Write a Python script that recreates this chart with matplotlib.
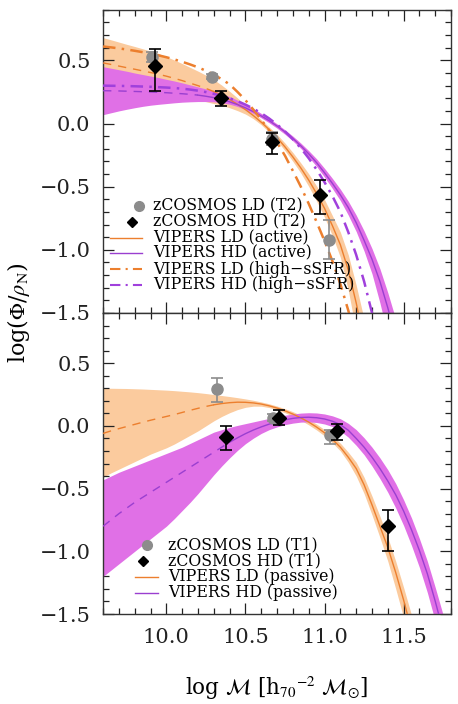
import matplotlib
matplotlib.use("Agg")
import matplotlib.pyplot as plt
from matplotlib.ticker import MultipleLocator
import numpy as np

plt.rcParams['font.family'] = ['DejaVu Serif']
plt.rcParams['mathtext.fontset'] = 'stix'

# ================= data: top panel (T2 / active, high-sSFR) =================
ld_act_m = [9.6, 9.65, 9.7, 9.75, 9.8, 9.85, 9.9, 9.95, 10.0, 10.05, 10.1, 10.15, 10.2, 10.25,
            10.3, 10.35, 10.4, 10.45, 10.5, 10.55, 10.6, 10.65, 10.7, 10.75, 10.8, 10.85, 10.9,
            10.95, 11.0, 11.05, 11.1, 11.15, 11.2, 11.25, 11.3]
ld_act_c = [0.48, 0.468, 0.455, 0.442, 0.43, 0.417, 0.404, 0.39, 0.375, 0.358, 0.34, 0.32, 0.30,
            0.278, 0.253, 0.224, 0.19, 0.152, 0.11, 0.063, 0.01, -0.048, -0.112, -0.185, -0.265,
            -0.352, -0.448, -0.555, -0.672, -0.81, -0.96, -1.16, -1.42, -1.72, -2.05]
ld_act_hi = [0.68, 0.663, 0.645, 0.627, 0.61, 0.592, 0.574, 0.555, 0.53, 0.503, 0.475, 0.445,
             0.415, 0.383, 0.348, 0.304, 0.255, 0.202, 0.145, 0.088, 0.03, -0.028, -0.087,
             -0.155, -0.23, -0.312, -0.398, -0.495, -0.602, -0.73, -0.86, -1.04, -1.28, -1.55, -1.85]
ld_act_lo = [0.28, 0.273, 0.265, 0.257, 0.25, 0.242, 0.234, 0.225, 0.22, 0.213, 0.205, 0.195,
             0.185, 0.173, 0.158, 0.144, 0.125, 0.102, 0.075, 0.038, -0.01, -0.068, -0.137,
             -0.215, -0.30, -0.392, -0.498, -0.615, -0.742, -0.89, -1.06, -1.32, -1.65, -1.95, -2.3]

hd_act_m = [9.6, 9.65, 9.7, 9.75, 9.8, 9.85, 9.9, 9.95, 10.0, 10.05, 10.1, 10.15, 10.2, 10.25,
            10.3, 10.35, 10.4, 10.45, 10.5, 10.55, 10.6, 10.65, 10.7, 10.75, 10.8, 10.85, 10.9,
            10.95, 11.0, 11.05, 11.1, 11.15, 11.2, 11.25, 11.3, 11.35, 11.4, 11.45, 11.5]
hd_act_c = [0.26, 0.259, 0.258, 0.256, 0.254, 0.252, 0.25, 0.247, 0.244, 0.24, 0.236, 0.231,
            0.225, 0.216, 0.205, 0.19, 0.172, 0.15, 0.124, 0.094, 0.06, 0.022, -0.02, -0.066,
            -0.118, -0.176, -0.24, -0.31, -0.39, -0.475, -0.565, -0.665, -0.785, -0.925, -1.075,
            -1.25, -1.46, -1.70, -1.98]
hd_act_hi = [0.45, 0.438, 0.426, 0.414, 0.40, 0.388, 0.376, 0.364, 0.35, 0.337, 0.322, 0.306,
             0.29, 0.274, 0.258, 0.238, 0.213, 0.185, 0.153, 0.118, 0.08, 0.04, -0.003, -0.05,
             -0.10, -0.155, -0.215, -0.28, -0.355, -0.435, -0.52, -0.615, -0.725, -0.85, -0.99,
             -1.15, -1.34, -1.55, -1.80]
hd_act_lo = [0.07, 0.085, 0.10, 0.113, 0.125, 0.136, 0.145, 0.152, 0.158, 0.164, 0.169, 0.172,
             0.174, 0.174, 0.172, 0.165, 0.153, 0.135, 0.11, 0.08, 0.045, 0.006, -0.037, -0.085,
             -0.138, -0.197, -0.265, -0.34, -0.425, -0.515, -0.61, -0.725, -0.855, -1.01, -1.19,
             -1.42, -1.68, -1.95, -2.25]

ssfr_m = [9.6, 9.65, 9.7, 9.75, 9.8, 9.85, 9.9, 9.95, 10.0, 10.05, 10.1, 10.15, 10.2, 10.25,
          10.3, 10.35, 10.4, 10.45, 10.5, 10.55, 10.6, 10.65, 10.7, 10.75, 10.8, 10.85, 10.9,
          10.95, 11.0, 11.05, 11.1, 11.15, 11.2, 11.25, 11.3, 11.35]
ld_ssfr = [0.61, 0.603, 0.595, 0.586, 0.576, 0.565, 0.553, 0.54, 0.525, 0.508, 0.489, 0.468,
           0.445, 0.418, 0.387, 0.351, 0.31, 0.25, 0.185, 0.11, 0.03, -0.055, -0.15, -0.255,
           -0.375, -0.50, -0.635, -0.78, -0.93, -1.09, -1.27, -1.48, -1.72, -2.0, -2.3, -2.6]
hd_ssfr = [0.30, 0.299, 0.298, 0.297, 0.295, 0.293, 0.291, 0.288, 0.285, 0.281, 0.276, 0.269,
           0.26, 0.249, 0.235, 0.219, 0.20, 0.177, 0.15, 0.118, 0.082, 0.04, -0.008, -0.062,
           -0.125, -0.195, -0.275, -0.365, -0.465, -0.575, -0.70, -0.86, -1.04, -1.25, -1.50, -1.78]

t2_ld_m = [9.91, 10.29, 10.67, 11.03]
t2_ld_v = [0.53, 0.37, -0.12, -0.92]
t2_ld_e = [0.04, 0.02, 0.05, 0.155]
t2_hd_m = [9.93, 10.345, 10.668, 10.973]
t2_hd_v = [0.457, 0.204, -0.148, -0.564]
t2_hd_elo = [0.197, 0.064, 0.092, 0.152]
t2_hd_ehi = [0.133, 0.056, 0.072, 0.120]

# ================= data: bottom panel (T1 / passive) =================
pas_m = [9.6, 9.65, 9.7, 9.75, 9.8, 9.85, 9.9, 9.95, 10.0, 10.05, 10.1, 10.15, 10.2, 10.25,
         10.3, 10.35, 10.4, 10.45, 10.5, 10.55, 10.6, 10.65, 10.7, 10.75, 10.8, 10.85, 10.9,
         10.95, 11.0, 11.05, 11.1, 11.15, 11.2, 11.25, 11.3, 11.35, 11.4, 11.45, 11.5, 11.55,
         11.6, 11.65, 11.7, 11.75, 11.8]
ld_pas_c = [-0.06, -0.04, -0.022, -0.005, 0.012, 0.029, 0.045, 0.06, 0.075, 0.09, 0.107, 0.124,
            0.14, 0.155, 0.168, 0.178, 0.185, 0.189, 0.188, 0.183, 0.174, 0.16, 0.142, 0.12,
            0.094, 0.064, 0.03, -0.01, -0.055, -0.108, -0.17, -0.25, -0.34, -0.47, -0.63, -0.80,
            -0.97, -1.17, -1.39, -1.63, -1.9, -2.2, -2.5, -2.8, -3.1]
ld_pas_hi = [0.30, 0.30, 0.299, 0.298, 0.296, 0.294, 0.291, 0.288, 0.285, 0.281, 0.276, 0.271,
             0.265, 0.258, 0.25, 0.242, 0.234, 0.225, 0.215, 0.204, 0.191, 0.176, 0.158, 0.137,
             0.113, 0.085, 0.052, 0.014, -0.03, -0.08, -0.138, -0.21, -0.29, -0.41, -0.56,
             -0.72, -0.89, -1.08, -1.29, -1.51, -1.77, -2.05, -2.35, -2.65, -2.95]
ld_pas_lo = [-0.41, -0.375, -0.345, -0.315, -0.285, -0.255, -0.225, -0.20, -0.175, -0.145, -0.11,
             -0.075, -0.04, 0.0, 0.04, 0.075, 0.105, 0.13, 0.148, 0.157, 0.157, 0.146, 0.128,
             0.105, 0.077, 0.045, 0.008, -0.033, -0.08, -0.135, -0.20, -0.29, -0.40, -0.54,
             -0.71, -0.89, -1.08, -1.30, -1.53, -1.79, -2.07, -2.35, -2.65, -2.95, -3.25]
hd_pas_c = [-0.80, -0.75, -0.70, -0.655, -0.61, -0.57, -0.53, -0.49, -0.45, -0.41, -0.37, -0.33,
            -0.29, -0.25, -0.21, -0.17, -0.13, -0.095, -0.062, -0.033, -0.008, 0.014, 0.032, 0.048,
            0.06, 0.067, 0.069, 0.065, 0.055, 0.037, 0.01, -0.035, -0.10, -0.17, -0.25, -0.34,
            -0.44, -0.55, -0.68, -0.83, -0.995, -1.18, -1.40, -1.64, -1.90]
hd_pas_hi = [-0.43, -0.40, -0.37, -0.345, -0.32, -0.295, -0.27, -0.245, -0.22, -0.195, -0.17,
             -0.14, -0.11, -0.08, -0.05, -0.03, -0.012, 0.004, 0.018, 0.032, 0.046, 0.06, 0.073,
             0.085, 0.095, 0.102, 0.105, 0.103, 0.095, 0.08, 0.057, 0.02, -0.03, -0.095, -0.17,
             -0.255, -0.35, -0.46, -0.59, -0.735, -0.90, -1.08, -1.29, -1.51, -1.76]
hd_pas_lo = [-1.20, -1.15, -1.10, -1.05, -1.0, -0.95, -0.90, -0.85, -0.80, -0.74, -0.675, -0.61,
             -0.54, -0.465, -0.39, -0.32, -0.255, -0.195, -0.142, -0.098, -0.06, -0.03, -0.008,
             0.01, 0.022, 0.03, 0.032, 0.027, 0.015, -0.005, -0.04, -0.09, -0.155, -0.23, -0.32,
             -0.42, -0.53, -0.655, -0.795, -0.955, -1.13, -1.33, -1.56, -1.80, -2.1]

t1_ld_m = [10.32, 10.674, 11.037]
t1_ld_v = [0.297, 0.065, -0.076]
t1_ld_elo = [0.107, 0.03, 0.07]
t1_ld_ehi = [0.085, 0.03, 0.04]
t1_hd_m = [10.38, 10.71, 11.08, 11.40]
t1_hd_v = [-0.09, 0.065, -0.044, -0.80]
t1_hd_elo = [0.10, 0.061, 0.072, 0.20]
t1_hd_ehi = [0.09, 0.059, 0.056, 0.13]

top_labels = ['zCOSMOS LD (T2)', 'zCOSMOS HD (T2)', 'VIPERS LD (active)', 'VIPERS HD (active)',
              'VIPERS LD (high\u2212sSFR)', 'VIPERS HD (high\u2212sSFR)']
bot_labels = ['zCOSMOS LD (T1)', 'zCOSMOS HD (T1)', 'VIPERS LD (passive)', 'VIPERS HD (passive)']

# ================= styles =================
c_or = '#EC7F2E'
c_or_fill = '#FBCB9E'
c_mg = '#9A3FD0'
c_mg_dd = '#A040DC'
c_mg_fill = '#E070E6'
c_gray = '#8C8C8C'
dash = (0, (6, 5))
dashdot = (0, (5, 2.5, 1, 2.5))

fig = plt.figure(figsize=(4.58, 7.04), dpi=100)
ax1 = fig.add_axes([0.225, 0.5554, 0.760, 0.4306])
ax2 = fig.add_axes([0.225, 0.1278, 0.760, 0.4276])


def split(m, v, cut):
    m = np.asarray(m); v = np.asarray(v)
    return (m[m <= cut + 1e-9], v[m <= cut + 1e-9]), (m[m >= cut - 1e-9], v[m >= cut - 1e-9])


def style_axes(ax, show_x):
    ax.set_xlim(9.6, 11.8)
    ax.set_ylim(-1.5, 0.9)
    ax.xaxis.set_major_locator(MultipleLocator(0.5))
    ax.xaxis.set_minor_locator(MultipleLocator(0.1))
    ax.yaxis.set_minor_locator(MultipleLocator(0.1))
    ax.set_yticks([-1.5, -1.0, -0.5, 0.0, 0.5])
    ax.set_yticklabels(['\u22121.5', '\u22121.0', '\u22120.5', '0.0', '0.5'])
    ax.tick_params(which='both', direction='in', top=True, right=True, width=0.9, colors='#222222')
    ax.tick_params(which='major', length=8, labelsize=15)
    ax.tick_params(axis='y', which='major', pad=9)
    ax.tick_params(axis='x', which='major', pad=10)
    ax.tick_params(which='minor', length=4)
    if not show_x:
        ax.tick_params(labelbottom=False)
    for s in ax.spines.values():
        s.set_linewidth(1.0)
        s.set_color('#333333')


def manual_legend(ax, items, labels, rows_y, x_text, x_line, x_circle, x_diamond):
    tr = ax.transAxes
    for (kind, col, ls, lw), lab, y in zip(items, labels, rows_y):
        if kind == 'o':
            ax.plot([x_circle], [y], marker='o', color=col, ms=7, transform=tr, clip_on=False, zorder=10)
        elif kind == 'D':
            ax.plot([x_diamond], [y], marker='D', color=col, ms=5, transform=tr, clip_on=False, zorder=10)
        else:
            ax.plot(x_line, [y, y], color=col, ls=ls, lw=lw, transform=tr, clip_on=False, zorder=10)
        ax.text(x_text, y, lab, transform=tr, ha='left', va='center', fontsize=11.3, zorder=10)


# ---------------- top panel ----------------
ax1.fill_between(ld_act_m, ld_act_lo, ld_act_hi, color=c_or_fill, lw=0, zorder=1)
ax1.fill_between(hd_act_m, hd_act_lo, hd_act_hi, color=c_mg_fill, lw=0, zorder=2)
a, b = split(ld_act_m, ld_act_c, 10.3)
ax1.plot(*a, color=c_or, lw=1.0, ls=dash, zorder=3)
ax1.plot(*b, color=c_or, lw=1.0, zorder=3)
a, b = split(hd_act_m, hd_act_c, 10.2)
ax1.plot(*a, color=c_mg, lw=1.0, ls=dash, zorder=3)
ax1.plot(*b, color=c_mg, lw=1.0, zorder=3)
ax1.plot(ssfr_m, ld_ssfr, color=c_or, lw=1.8, ls=dashdot, zorder=4)
ax1.plot(ssfr_m, hd_ssfr, color=c_mg_dd, lw=1.8, ls=dashdot, zorder=4)

ax1.errorbar(t2_ld_m, t2_ld_v, yerr=t2_ld_e, fmt='o', color=c_gray, ms=8,
             elinewidth=1.2, capsize=4, capthick=1.2, zorder=5)
ax1.errorbar(t2_hd_m, t2_hd_v, yerr=[t2_hd_elo, t2_hd_ehi], fmt='D', color='black', ms=7.5,
             elinewidth=1.2, capsize=4, capthick=1.2, zorder=6)
style_axes(ax1, False)

top_items = [('o', c_gray, None, None), ('D', 'black', None, None),
             ('l', c_or, '-', 1.0), ('l', c_mg, '-', 1.0),
             ('l', c_or, dashdot, 1.5), ('l', c_mg_dd, dashdot, 1.5)]
top_rows = [(313 - y) / 303 for y in [206, 221.7, 237.7, 253.3, 269.3, 285]]
manual_legend(ax1, top_items, top_labels, top_rows, 0.143, [0.02, 0.112], 0.103, 0.083)

# ---------------- bottom panel ----------------
ax2.fill_between(pas_m, ld_pas_lo, ld_pas_hi, color=c_or_fill, lw=0, zorder=1)
ax2.fill_between(pas_m, hd_pas_lo, hd_pas_hi, color=c_mg_fill, lw=0, zorder=2)
a, b = split(pas_m, ld_pas_c, 10.3)
ax2.plot(*a, color=c_or, lw=1.0, ls=dash, zorder=3)
ax2.plot(*b, color=c_or, lw=1.0, zorder=3)
a, b = split(pas_m, hd_pas_c, 10.4)
ax2.plot(*a, color=c_mg, lw=1.0, ls=dash, zorder=3)
ax2.plot(*b, color=c_mg, lw=1.0, zorder=3)

ax2.errorbar(t1_ld_m, t1_ld_v, yerr=[t1_ld_elo, t1_ld_ehi], fmt='o', color=c_gray, ms=8,
             elinewidth=1.2, capsize=4, capthick=1.2, zorder=5)
ax2.errorbar(t1_hd_m, t1_hd_v, yerr=[t1_hd_elo, t1_hd_ehi], fmt='D', color='black', ms=7.5,
             elinewidth=1.2, capsize=4, capthick=1.2, zorder=6)
style_axes(ax2, True)

bot_items = [('o', c_gray, None, None), ('D', 'black', None, None),
             ('l', c_or, '-', 1.0), ('l', c_mg, '-', 1.0)]
bot_rows = [(614 - y) / 301 for y in [545, 560.7, 576.7, 592.7]]
manual_legend(ax2, bot_items, bot_labels, bot_rows, 0.188, [0.092, 0.158], 0.126, 0.114)

ax2.set_xlabel(r'log $\mathcal{M}$ [h$_{70}$$^{-2}$ $\mathcal{M}_{\odot}$]', fontsize=15.5, labelpad=20)
fig.text(0.04, 0.5554, r'log($\Phi$/$\rho_{\rm N}$)', rotation=90, ha='center', va='center', fontsize=16)

fig.savefig('out.png', dpi=100)
